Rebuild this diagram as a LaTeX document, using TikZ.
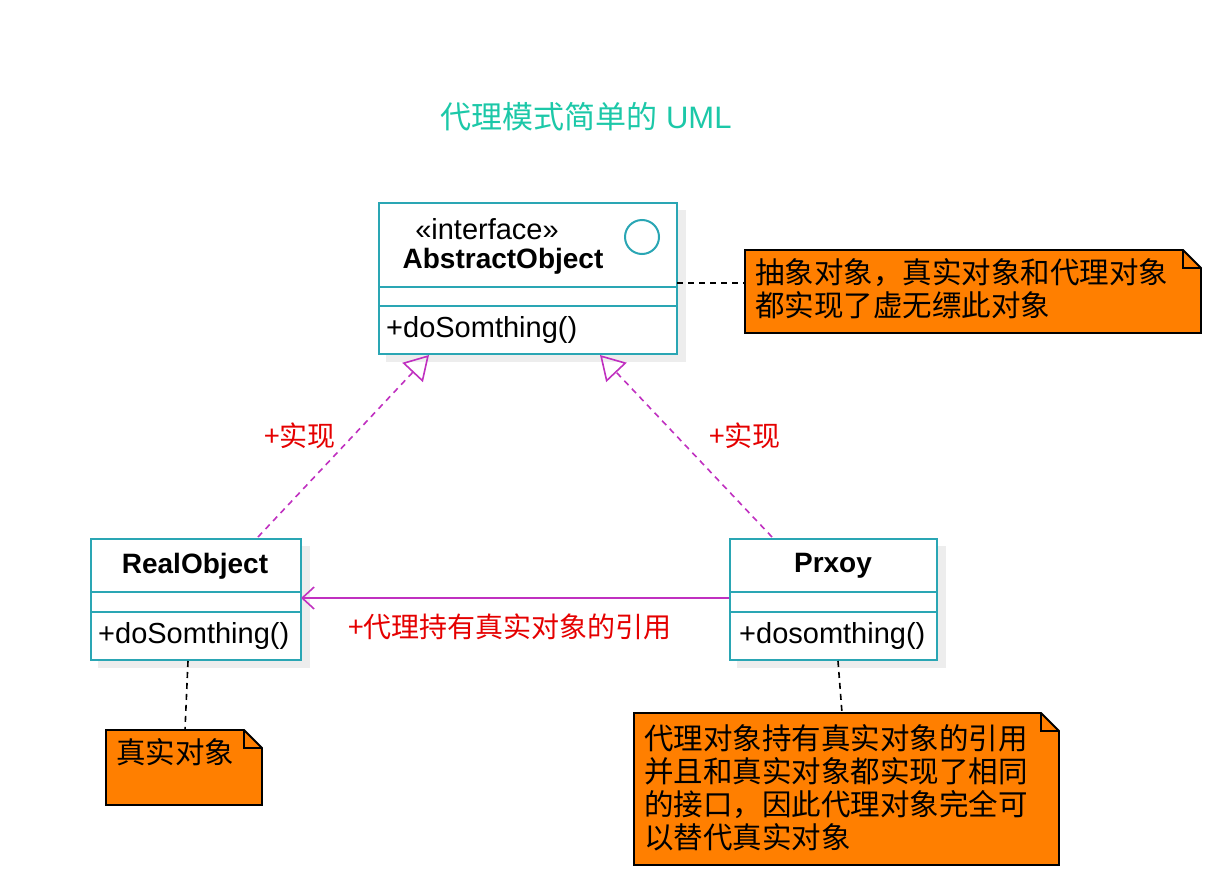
\documentclass[tikz,border=0pt]{standalone}
\usepackage{fontspec}
\setmainfont{Liberation Sans}
\newfontfamily\cjk{Noto Sans CJK SC}
\usetikzlibrary{arrows.meta,shapes.misc}
\definecolor{cls}{HTML}{2AA6B4}
\definecolor{mag}{HTML}{C030C0}
\definecolor{notec}{HTML}{FF7F00}
\definecolor{ttl}{HTML}{1CC8A8}
\tikzset{
 x=1pt,y=-1pt,
 clsbox/.style={draw=cls,line width=2pt,fill=white,anchor=north west,inner sep=0pt},
 txt/.style={font=\fontsize{29}{32}\selectfont,inner sep=0pt},
 boldtxt/.style={font=\fontsize{28}{32}\selectfont\bfseries,inner sep=0pt},
 redlab/.style={text=red!90!black,font=\fontsize{28}{32}\selectfont\cjk,inner sep=0pt},
 notetxt/.style={font=\fontsize{29.5}{33}\selectfont\cjk,align=left,anchor=north west,inner sep=0pt},
 realize/.style={mag,dash pattern=on 6pt off 5pt,line width=1.6pt,-{Triangle[open,length=24pt,width=28pt,line width=1.6pt]}},
 notelink/.style={black,dash pattern=on 6pt off 5pt,line width=1.6pt},
}
\newcommand{\umlnote}[5]{% name,x1,y1,x2,y2
 \fill[notec] (#2,#3) -- (#4-18,#3) -- (#4,#3+18) -- (#4,#5) -- (#2,#5) -- cycle;
 \draw[line width=1.8pt] (#2,#3) -- (#4-18,#3) -- (#4,#3+18) -- (#4,#5) -- (#2,#5) -- cycle;
 \draw[line width=1.2pt] (#4-18,#3) -- (#4-18,#3+18) -- (#4,#3+18);
 \coordinate (#1) at (#2,#3);
}
\begin{document}
\begin{tikzpicture}
\useasboundingbox (0,0) rectangle (1214,878);
\fill[white] (0,0) rectangle (1214,878);
\node[font=\fontsize{31}{34}\selectfont,text=ttl,inner sep=0pt] (title) at (586,117) {{\cjk 代理模式简单的} UML};
% shadows
\fill[black!7] (386,210) rectangle (686,362);
\fill[black!7] (98,546) rectangle (310,668);
\fill[black!7] (737,546) rectangle (946,668);
% Abstract
\node[clsbox,minimum width=298pt,minimum height=151pt] (abs) at (378,202) {};
\draw[cls,line width=2pt] (378,287) -- (676,287) (378,306) -- (676,306);
\draw[cls,line width=2pt] (642,237) circle (17);
\node[txt] (st) at (487,229) {«interface»};
\node[boldtxt] (an) at (503,261) {AbstractObject};
\node[txt,anchor=west] (am) at (386,330) {+doSomthing()};
% Real
\node[clsbox,minimum width=210pt,minimum height=121pt] (real) at (90,538) {};
\draw[cls,line width=2pt] (90,592) -- (300,592) (90,612) -- (300,612);
\node[boldtxt] (rn) at (195,566) {RealObject};
\node[txt,anchor=west] (rm) at (98,636) {+doSomthing()};
% Proxy
\node[clsbox,minimum width=207pt,minimum height=121pt] (prx) at (729,538) {};
\draw[cls,line width=2pt] (729,592) -- (936,592) (729,612) -- (936,612);
\node[boldtxt] (pn) at (833,566) {Prxoy};
\node[txt,anchor=west] (pm) at (739,636) {+dosomthing()};
% notes
\umlnote{n1}{745}{250}{1201}{333}
\node[notetxt] (n1t) at (755,258) {抽象对象，真实对象和代理对象\\都实现了虚无缥此对象};
\umlnote{n2}{106}{730}{262}{805}
\node[notetxt] (n2t) at (116,738) {真实对象};
\umlnote{n3}{634}{713}{1059}{865}
\node[notetxt] (n3t) at (644,724) {代理对象持有真实对象的引用\\并且和真实对象都实现了相同\\的接口，因此代理对象完全可\\以替代真实对象};
% links
\coordinate (r1) at (258,537); \coordinate (r1e) at (429,355);
\coordinate (p1) at (772,537); \coordinate (p1e) at (600,355);
\draw[realize] (r1) -- (r1e);
\draw[realize] (p1) -- (p1e);
\node[redlab] (l1) at (300,436) {+实现};
\node[redlab] (l2) at (745,436) {+实现};
\coordinate (pa) at (729,598); \coordinate (ra) at (301,598);
\draw[mag,line width=1.6pt,-{Straight Barb[length=12pt,width=22pt,line width=1.6pt]}] (pa) -- (ra);
\node[redlab] (l3) at (510,627) {+代理持有真实对象的引用};
\coordinate (a1) at (677,283); \coordinate (a2) at (745,283);
\draw[notelink] (a1) -- (a2);
\coordinate (b1) at (188,661); \coordinate (b2) at (185,730);
\draw[notelink] (b1) -- (b2);
\coordinate (c1) at (838,661); \coordinate (c2) at (842,713);
\draw[notelink] (c1) -- (c2);
\end{tikzpicture}
\end{document}
